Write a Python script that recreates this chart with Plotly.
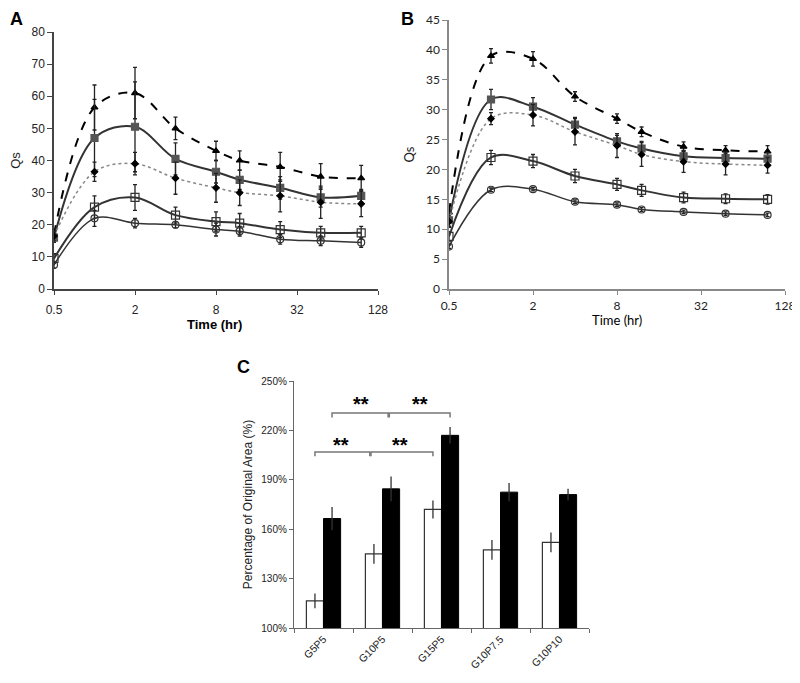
import plotly.graph_objects as go

# ---------------- data ----------------
time_hr = [0.5, 1, 2, 4, 8, 12, 24, 48, 96]

# Panel A
A_tri = [17, 56.5, 61, 50, 43, 40, 38, 35, 34.5]
A_tri_err = [1.5, 7, 8, 3.5, 3, 3, 4.5, 4, 4]
A_fsq = [16, 47, 50.5, 40.5, 36.5, 34, 31.5, 28.5, 29]
A_fsq_err = [1.5, 12, 14, 5, 3.5, 3, 3.5, 3, 2]
A_dia = [16.5, 36.5, 39, 34.5, 31.5, 30, 29, 27, 26.5]
A_dia_err = [1.5, 3, 3.5, 5, 4.5, 4, 5, 5, 4]
A_osq = [9.5, 25.5, 28.5, 23, 21, 20.5, 18.5, 17.5, 17.5]
A_osq_err = [1.5, 3.5, 4, 2.5, 3, 3, 2.5, 2, 2]
A_cir = [7.5, 22, 20.5, 20, 18.5, 18, 15.5, 15, 14.5]
A_cir_err = [1, 2.5, 1.5, 1, 2, 1.5, 1.5, 1.5, 1.5]

# Panel B
B_tri = [12.8, 39, 38.5, 32.2, 28.5, 26.3, 23.8, 23.2, 23]
B_tri_err = [1.2, 1.2, 1.2, 0.8, 0.8, 0.8, 0.8, 0.8, 1]
B_fsq = [11.5, 31.7, 30.5, 27.5, 24.7, 23.5, 22.2, 21.9, 21.8]
B_fsq_err = [1, 1.7, 1.5, 1.2, 1, 1.2, 1, 1, 1]
B_dia = [11.3, 28.5, 29.1, 26.3, 24, 22.5, 21.3, 20.9, 20.7]
B_dia_err = [1, 1, 1.8, 2.2, 2, 2, 1.8, 1.8, 1.3]
B_osq = [8.8, 22, 21.4, 18.9, 17.5, 16.5, 15.3, 15.1, 15.0]
B_osq_err = [0.8, 1.2, 1.1, 1.1, 1, 1, 0.9, 0.8, 0.8]
B_cir = [7.1, 16.6, 16.7, 14.6, 14.1, 13.3, 12.9, 12.6, 12.4]
B_cir_err = [0.3, 0.3, 0.3, 0.3, 0.3, 0.3, 0.3, 0.3, 0.3]

# Panel C
groups = ["G5P5", "G10P5", "G15P5", "G10P7.5", "G10P10"]
C_white = [1.165, 1.45, 1.72, 1.475, 1.52]
C_white_err = [0.045, 0.06, 0.055, 0.06, 0.06]
C_black = [1.665, 1.845, 2.17, 1.825, 1.81]
C_black_err = [0.07, 0.075, 0.05, 0.055, 0.035]
x_ticks = [0.5, 2, 8, 32, 128]
x_ticktext = ["0.5", "2", "8", "32", "128"]

# page has an 8px body margin: figure is 792x675 placed at (8, 8)
W, H, OFF = 792, 675, 8
def fx(px):
    return (px - OFF) / W
def fy(py):
    return 1 - (py - OFF) / H

fig = go.Figure()

series_style = [
    dict(sym="triangle-up", mcol="black", lcol="black", dash="dash", lw=2, ms=6),
    dict(sym="square", mcol="#555555", lcol="#333333", dash="solid", lw=2, ms=7),
    dict(sym="diamond", mcol="black", lcol="#888888", dash="dot", lw=1.5, ms=5),
    dict(sym="square-open", mcol="#333333", lcol="#333333", dash="solid", lw=2, ms=8),
    dict(sym="circle-open", mcol="#333333", lcol="#333333", dash="solid", lw=1.5, ms=7),
]

def add_series(ys, errs, xa, ya):
    for y, e, st in zip(ys, errs, series_style):
        fig.add_trace(go.Scatter(
            x=time_hr, y=y, xaxis=xa, yaxis=ya, mode="lines+markers",
            line=dict(shape="spline", smoothing=1.0, color=st["lcol"], dash=st["dash"], width=st["lw"]),
            marker=dict(symbol=st["sym"], color=st["mcol"], size=st["ms"],
                        line=dict(color=st["mcol"], width=1.2)),
            error_y=dict(type="data", array=e, color="#222222", thickness=1.3, width=2),
            showlegend=False))

add_series([A_tri, A_fsq, A_dia, A_osq, A_cir],
           [A_tri_err, A_fsq_err, A_dia_err, A_osq_err, A_cir_err], "x", "y")
add_series([B_tri, B_fsq, B_dia, B_osq, B_cir],
           [B_tri_err, B_fsq_err, B_dia_err, B_osq_err, B_cir_err], "x2", "y2")

fig.add_trace(go.Bar(x=groups, y=C_white, xaxis="x3", yaxis="y3",
                     marker=dict(color="white", line=dict(color="#333333", width=1.2)),
                     error_y=dict(type="data", array=C_white_err, color="#333333", thickness=1.3, width=0),
                     showlegend=False))
fig.add_trace(go.Bar(x=groups, y=C_black, xaxis="x3", yaxis="y3",
                     marker=dict(color="black", line=dict(color="black", width=1)),
                     error_y=dict(type="data", array=C_black_err, color="#333333", thickness=1.3, width=0),
                     showlegend=False))

arial = "Liberation Sans, Arial, sans-serif"
calib = "Lato, Open Sans, sans-serif"

def xlog(domain, anchor, font, col, standoff):
    return dict(type="log", domain=domain, anchor=anchor, range=[-0.30103, 2.10721],
                tickvals=x_ticks, ticktext=x_ticktext, showgrid=False, zeroline=False,
                showline=True, linecolor=col, linewidth=1.5, ticks="outside", ticklen=4,
                tickcolor=col, ticklabelstandoff=standoff,
                tickfont=dict(family=font, size=12, color="#222"))

fig.update_layout(
    width=W, height=H, paper_bgcolor="white", plot_bgcolor="white",
    margin=dict(l=0, r=0, t=0, b=0, autoexpand=False), barmode="group", bargap=0.42, bargroupgap=0,
    xaxis=xlog([fx(54), fx(378)], "y", arial, "#444", 5),
    yaxis=dict(domain=[fy(289), fy(32)], anchor="x", range=[0, 80], dtick=10,
               showgrid=False, zeroline=False, showline=True, linecolor="#444", linewidth=1.5,
               ticks="outside", ticklen=5, tickcolor="#444",
               tickfont=dict(family=arial, size=12, color="#222"),
               title=dict(text="Qs", font=dict(family=arial, size=13, color="#222"), standoff=8)),
    xaxis2=xlog([fx(449), fx(785)], "y2", calib, "#888", 1),
    yaxis2=dict(domain=[fy(289), fy(20)], anchor="x2", range=[0, 45], dtick=5,
                showgrid=False, zeroline=False, showline=True, linecolor="#888", linewidth=1.5,
                ticks="outside", ticklen=5, tickcolor="#888",
                tickfont=dict(family=calib, size=12, color="#222"),
                title=dict(text="Qs", font=dict(family=calib, size=13, color="#222"), standoff=8)),
    xaxis3=dict(domain=[fx(294), fx(589)], anchor="y3", type="category", range=[-0.5, 4.5],
                tickson="boundaries", ticks="outside", ticklen=4, tickcolor="#666",
                showline=True, linecolor="#666", linewidth=1.2, showgrid=False,
                tickangle=-45, tickfont=dict(family=arial, size=10.5, color="#222")),
    yaxis3=dict(domain=[fy(628), fy(381)], anchor="x3", range=[1.0, 2.5], tick0=1.0, dtick=0.3,
                tickformat=".0%", showgrid=False, zeroline=False, showline=True,
                linecolor="#666", linewidth=1.2, ticks="outside", ticklen=4, tickcolor="#666",
                tickfont=dict(family=arial, size=10, color="#222"),
                title=dict(text="Percentage of Original Area (%)",
                           font=dict(family=arial, size=12, color="#222"), standoff=6)),
)

# axis titles
for txt, px, py, fam in [("<b>Time (hr)</b>", 214, 324, arial), ("Time (hr)", 617, 320, calib)]:
    fig.add_annotation(xref="paper", yref="paper", showarrow=False, xanchor="center",
                       yanchor="middle", x=fx(px), y=fy(py), text=txt,
                       font=dict(family=fam, size=13, color="black"))
# panel labels (anchored at top so they stay inside the figure)
for txt, px, py in [("A", 16, 8), ("B", 407, 8), ("C", 243, 356)]:
    fig.add_annotation(xref="paper", yref="paper", showarrow=False, xanchor="center",
                       yanchor="top", x=fx(px), y=fy(py), text=f"<b>{txt}</b>",
                       font=dict(family=arial, size=18, color="black"), borderpad=0)

# significance brackets (panel C)
half = 0.145
w = [i - half for i in range(5)]
b = [i + half for i in range(5)]
brackets = [
    (w[0], w[1] - 0.07, 2.069, 2.043),
    (w[1] - 0.05, w[2], 2.069, 2.043),
    (b[0], b[1] - 0.05, 2.306, 2.278),
    (b[1] - 0.03, b[2], 2.306, 2.278),
]
for x0, x1, yt, yb in brackets:
    fig.add_shape(type="path", xref="x3", yref="y3",
                  path=f"M {x0} {yb} L {x0} {yt} L {x1} {yt} L {x1} {yb}",
                  line=dict(color="#777777", width=1.5))
for xs, ys in [(0.30, 2.11), (1.29, 2.11), (0.63, 2.36), (1.63, 2.36)]:
    fig.add_annotation(x=xs, y=ys, xref="x3", yref="y3", text="<b>**</b>", showarrow=False,
                       font=dict(family=arial, size=20, color="black"), yanchor="middle")

fig.write_html("out.html")
